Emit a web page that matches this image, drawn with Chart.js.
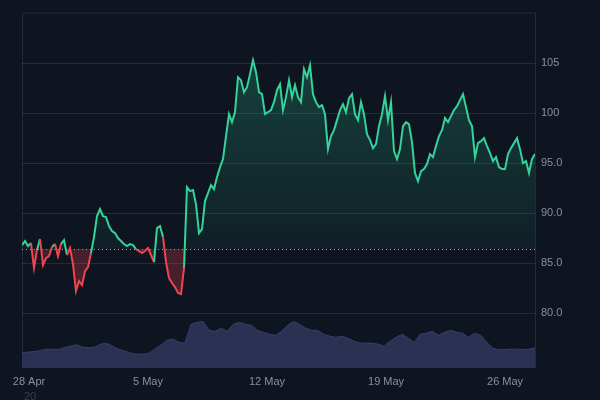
<!DOCTYPE html>
<html>
<head>
<meta charset="utf-8">
<script src="https://cdn.jsdelivr.net/npm/chart.js@4.4.1/dist/chart.umd.min.js"></script>
<style>
  html, body { margin: 0; padding: 0; background: #0e1420; }
  #wrap { width: 600px; height: 400px; }
</style>
</head>
<body>
<div id="wrap"><canvas id="myChart" width="600" height="400"></canvas></div>
<script>
// price, roughly every 4 hours
const prices = [
  86.8, 87.2, 86.7, 87.0, 84.5, 86.3, 87.4, 84.8, 85.5, 85.7,
  86.6, 86.9, 85.7, 86.9, 87.3, 85.8, 86.5, 84.9, 82.2, 83.2,
  82.8, 84.2, 84.6, 86.0, 87.6, 89.7, 90.4, 89.7, 89.6, 88.7,
  88.2, 88.0, 87.5, 87.2, 86.9, 86.7, 86.9, 86.8, 86.4, 86.2,
  86.0, 86.2, 86.5, 85.8, 85.1, 88.5, 88.7, 87.6, 85.1, 83.5,
  83.0, 82.6, 82.0, 81.9, 84.5, 92.6, 92.2, 92.3, 90.9, 88.0,
  88.4, 91.2, 92.0, 92.8, 92.4, 93.6, 94.6, 95.4, 97.7, 99.9,
  99.1, 100.1, 103.6, 103.3, 102.1, 102.6, 103.9, 105.3, 104.1, 102.1,
  101.9, 99.9, 100.1, 100.3, 101.1, 102.3, 102.9, 100.3, 101.6, 103.3,
  101.6, 102.8, 101.6, 101.1, 104.4, 103.6, 104.8, 101.9, 101.1, 100.6,
  100.8, 99.9, 96.4, 97.7, 98.3, 99.3, 100.3, 100.9, 100.1, 101.5,
  101.9, 99.9, 99.3, 101.1, 99.9, 97.9, 97.3, 96.5, 96.9, 98.7,
  99.9, 101.7, 99.3, 101.1, 96.2, 95.4, 96.4, 98.7, 99.1, 98.9,
  97.1, 94.0, 93.2, 94.2, 94.4, 94.9, 95.9, 95.6, 96.7, 97.7,
  98.3, 99.5, 99.1, 99.7, 100.3, 100.7, 101.3, 101.9, 100.6, 99.3,
  98.7, 95.6, 97.0, 97.2, 97.5, 96.7, 96.0, 95.2, 95.6, 94.6,
  94.4, 94.4, 95.9, 96.5, 97.0, 97.5, 96.4, 95.0, 95.2, 94.0,
  95.4, 95.9
];

// volume (millions), roughly every 8 hours
const volumes = [
  1.55, 1.6, 1.65, 1.75, 1.9, 1.9, 1.85, 2.05, 2.2, 2.35,
  2.1, 2.05, 2.1, 2.4, 2.5, 2.2, 1.9, 1.7, 1.5, 1.4,
  1.4, 1.45, 1.9, 2.3, 2.8, 2.9, 2.6, 2.5, 4.4, 4.6,
  4.7, 3.8, 3.7, 4.0, 3.7, 4.4, 4.6, 4.4, 4.3, 3.8,
  3.6, 3.4, 3.3, 3.7, 4.3, 4.7, 4.4, 4.0, 3.8, 3.8,
  3.4, 3.2, 3.1, 3.2, 3.0, 2.7, 2.5, 2.5, 2.5, 2.4,
  2.2, 2.7, 3.1, 3.4, 3.0, 2.6, 3.4, 3.5, 3.7, 3.3,
  3.6, 3.8, 3.6, 3.5, 3.1, 3.5, 3.3, 2.6, 2.0, 1.85,
  1.85, 1.9, 1.9, 1.85, 1.9, 2.05
];

const baseline = 86.43;
// days counted from 28 Apr
const firstDay = -0.41;
const lastDay = 29.76;
const tickDays = [0, 7, 14, 21, 28];
const tickLabels = ['28 Apr', '5 May', '12 May', '19 May', '26 May'];
const priceTicks = [80, 85, 90, 95, 100, 105];

const green = '#34d399';
const red = '#ef4451';
const gridColor = 'rgba(255,255,255,0.10)';
const textColor = '#8a909c';
const font = { family: 'Liberation Sans, Arial, sans-serif', size: 11 };

function spread(arr) {
  const step = (lastDay - firstDay) / (arr.length - 1);
  return arr.map((v, i) => ({ x: firstDay + i * step, y: v }));
}

const canvas = document.getElementById('myChart');
const ctx = canvas.getContext('2d');

const greenFill = ctx.createLinearGradient(0, 55, 0, 250);
greenFill.addColorStop(0, 'rgba(52,211,153,0.24)');
greenFill.addColorStop(1, 'rgba(52,211,153,0.06)');

// frame + dotted baseline + the stray "20" under the first date
const extras = {
  id: 'extras',
  beforeDatasetsDraw(chart) {
    const { ctx, chartArea: a, scales } = chart;
    ctx.save();
    ctx.strokeStyle = gridColor;
    ctx.lineWidth = 1;
    ctx.beginPath();
    ctx.moveTo(a.left + 0.5, a.bottom);
    ctx.lineTo(a.left + 0.5, a.top + 0.5);
    ctx.lineTo(a.right + 0.5, a.top + 0.5);
    ctx.lineTo(a.right + 0.5, a.bottom);
    ctx.stroke();
    const y = Math.round(scales.y.getPixelForValue(baseline)) + 0.5;
    ctx.strokeStyle = '#a0a6b0';
    ctx.setLineDash([1, 3]);
    ctx.beginPath();
    ctx.moveTo(a.left, y);
    ctx.lineTo(a.right, y);
    ctx.stroke();
    ctx.restore();
  },
  afterDraw(chart) {
    const c = chart.ctx;
    c.save();
    c.fillStyle = '#3b414d';
    c.font = '11px Liberation Sans, Arial, sans-serif';
    c.textBaseline = 'alphabetic';
    c.fillText('20', 24, 400);
    c.restore();
  }
};

const myChart = new Chart(ctx, {
  type: 'line',
  data: {
    datasets: [{
      label: 'Price',
      data: spread(prices),
      yAxisID: 'y',
      borderWidth: 2,
      borderColor: green,
      pointRadius: 0,
      tension: 0,
      segment: {
        borderColor: c => ((c.p0.parsed.y + c.p1.parsed.y) / 2 >= baseline ? green : red)
      },
      fill: { target: { value: baseline }, above: greenFill, below: 'rgba(239,68,81,0.26)' },
      order: 0
    }, {
      label: 'Volume',
      data: spread(volumes),
      yAxisID: 'yVol',
      borderWidth: 1,
      borderColor: '#36406a',
      backgroundColor: '#2a3152',
      pointRadius: 0,
      tension: 0,
      fill: 'origin',
      order: 1
    }]
  },
  options: {
    responsive: false,
    animation: false,
    devicePixelRatio: 1,
    layout: { padding: { left: 22, top: 10, right: 0, bottom: 0 } },
    plugins: {
      legend: { display: false },
      tooltip: { enabled: false }
    },
    scales: {
      x: {
        type: 'linear',
        min: firstDay,
        max: lastDay,
        afterBuildTicks: s => { s.ticks = tickDays.map(v => ({ value: v })); },
        afterFit: s => { s.height = 32; },
        grid: { display: false, drawTicks: false },
        border: { display: false },
        ticks: {
          color: textColor,
          font: font,
          padding: 7,
          maxRotation: 0,
          autoSkip: false,
          callback: v => tickLabels[tickDays.indexOf(v)]
        }
      },
      y: {
        position: 'right',
        min: 74.5,
        max: 110.06,
        afterBuildTicks: s => { s.ticks = priceTicks.map(v => ({ value: v })); },
        afterFit: s => { s.width = 65; },
        grid: { color: gridColor, drawTicks: false },
        border: { display: false },
        ticks: {
          color: textColor,
          font: font,
          padding: 6,
          callback: v => (v >= 100 ? v.toFixed(0) : v.toFixed(1))
        }
      },
      yVol: {
        display: false,
        min: 0,
        max: 35.8
      }
    }
  },
  plugins: [extras]
});
</script>
</body>
</html>
